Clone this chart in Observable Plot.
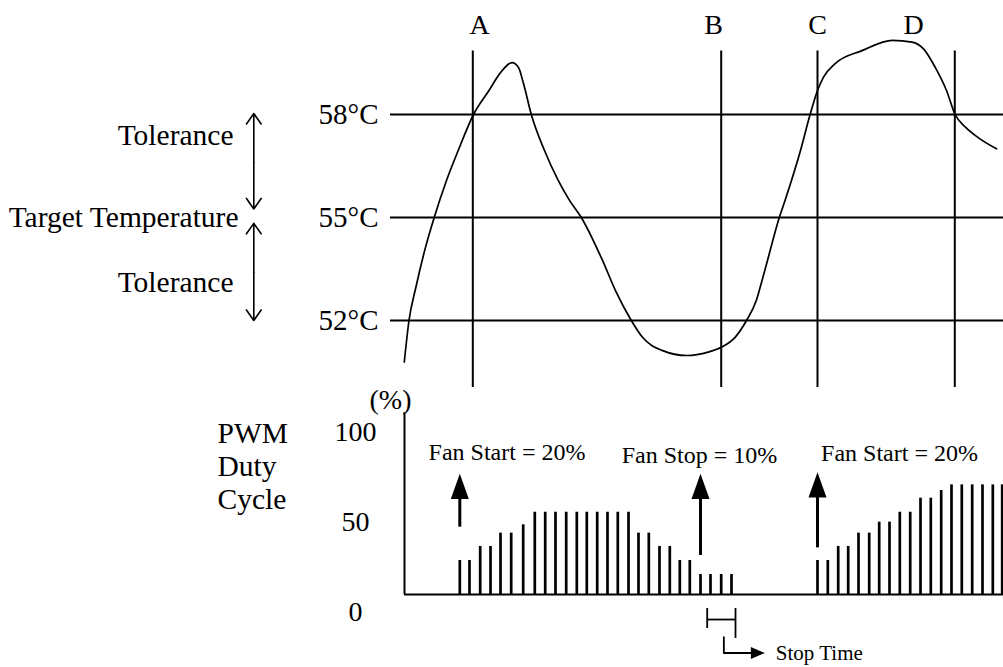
<!DOCTYPE html>
<html><head><meta charset="utf-8">
<script src="https://cdn.jsdelivr.net/npm/d3@7"></script>
<script src="https://cdn.jsdelivr.net/npm/@observablehq/plot@0.6"></script>
<style>
html,body{margin:0;padding:0;background:#fff;}
#wrap{position:relative;width:1003px;height:667px;overflow:hidden;background:#fff;}
#wrap svg{position:absolute;left:0;top:0;}
</style></head><body><div id="wrap"></div>
<script>
// ---------- data (time in s-like units, temperature in °C, duty in %) ----------
const tempTime  = [-0.02, 0.45, 1.14, 2.1, 2.98, 4.2, 5.37, 6.9, 8.45, 9.6, 10.75, 11.4, 11.9, 12.68, 14.0, 15.37, 16.5, 17.68, 19.8, 21.1, 22.68, 23.8, 25.75, 28.25, 30.37, 31.68, 33.06, 34.2, 35.18, 35.75, 36.3, 37.48, 38.06, 39.6, 40.56, 41.3, 41.9, 43.06, 45.75, 48.8, 50.75, 51.9, 53.06, 54.2, 55.06, 56.1, 57.3, 59.2];
const tempValue = [50.79, 52.0, 52.97, 54.13, 55.01, 56.08, 56.95, 58.0, 58.7, 59.22, 59.51, 59.37, 58.9, 58.0, 56.95, 56.08, 55.5, 55.0, 53.75, 52.87, 52.0, 51.51, 51.13, 50.98, 51.08, 51.22, 51.51, 52.0, 52.58, 53.16, 53.75, 55.0, 55.5, 56.95, 58.0, 58.7, 59.09, 59.48, 59.86, 60.16, 60.11, 59.91, 59.38, 58.7, 58.0, 57.63, 57.34, 57.0];
const tempTicks = [52, 55, 58];
const targetTemp = 55;
const toleranceHigh = 58;
const toleranceLow = 52;

const eventNames     = ["A", "B", "C", "D"];
const eventLabelTime = [7.5, 30.9, 41.3, 50.9];
const eventLineTime  = [6.83, 31.67, 41.3, 55.03];

const dutyTime1 = [5.53, 6.5, 7.57, 8.6, 9.6, 10.67, 11.87, 13.03, 14.07, 15.1, 16.17, 17.23, 18.23, 19.27, 20.3, 21.33, 22.4, 23.4, 24.43, 25.5, 26.53, 27.53, 28.53, 29.6, 30.6, 31.67, 32.7];
const duty1     = [18.9, 18.9, 26.7, 26.7, 34.1, 34.1, 38.7, 45.7, 45.7, 45.7, 45.7, 45.7, 45.7, 45.7, 45.7, 45.7, 45.7, 34.1, 34.1, 26.7, 26.7, 18.9, 18.9, 11.1, 11.1, 11.1, 11.1];
const dutyTime2 = [41.3, 42.33, 43.37, 44.37, 45.4, 46.47, 47.47, 48.5, 49.53, 50.57, 51.6, 52.63, 53.67, 54.7, 55.73, 56.77, 57.8, 58.83, 59.77];
const duty2     = [18.9, 18.9, 26.7, 26.7, 34.1, 34.1, 40.2, 40.2, 45.7, 45.7, 53.5, 53.5, 57.8, 60.9, 60.9, 60.9, 60.9, 60.9, 60.9];
const dutyTicks = [0, 50, 100];

const fanNotes      = ["Fan Start = 20%", "Fan Stop = 10%", "Fan Start = 20%"];
const fanNoteTime   = [10.25, 29.5, 49.5];
const fanNoteDuty   = [79.1, 77.2, 78.3];
const fanArrowTime  = [5.53, 29.6, 41.3];
const fanArrowFrom  = [37.4, 21.7, 25.9];
const fanArrowTo    = [67.1, 67.1, 67.9];

const stopTimeStart = 30.27;
const stopTimeEnd   = 33.1;

// ---------- layout / style constants ----------
const W = 1003, H = 667;
const FONT = "'Liberation Serif', 'Times New Roman', serif";
const xScale = {domain: [-1.4, 59.9], range: [390, 1003]};

// ---------- top chart: temperature ----------
const curve = tempTime.map((t, i) => ({t, v: tempValue[i]}));
const events = eventNames.map((n, i) => ({n, t: eventLabelTime[i]}));
const leftNotes = [
  {s: "Tolerance", y: 57.4, x: -17.1},
  {s: "Target Temperature", y: targetTemp, x: -16.6},
  {s: "Tolerance", y: 53.1, x: -17.1}
];
const tolArrows = [
  {y1: 56.6, y2: toleranceHigh + 0.03},
  {y1: 56.6, y2: targetTemp + 0.25},
  {y1: 53.4, y2: targetTemp - 0.17},
  {y1: 53.4, y2: toleranceLow}
];

const topChart = Plot.plot({
  width: W, height: H,
  marginLeft: 390, marginRight: 0, marginTop: 0, marginBottom: 0,
  style: {fontFamily: FONT, fontSize: "28px", background: "transparent", color: "#000"},
  x: {...xScale, axis: null},
  y: {domain: [52, 58], range: [320, 114]},
  marks: [
    Plot.ruleY(tempTicks, {stroke: "#000", strokeWidth: 2}),
    Plot.ruleX(eventLineTime, {y1: 50.05, y2: 59.85, stroke: "#000", strokeWidth: 2}),
    Plot.line(curve, {x: "t", y: "v", curve: "monotone-x", stroke: "#000", strokeWidth: 1.7}),
    Plot.axisY({ticks: tempTicks, tickFormat: d => d + "°C", tickSize: 0, tickPadding: 12, fontSize: 29, label: null, fill: "#000"}),
    Plot.text(events, {x: "t", y: 60.6, text: "n", fontSize: 28, fill: "#000"}),
    Plot.text(leftNotes, {x: "x", y: "y", text: "s", textAnchor: "end", fontSize: 29.5, fill: "#000"}),
    Plot.arrow(tolArrows, {x: -15.07, y1: "y1", y2: "y2", stroke: "#000", strokeWidth: 1.6, headLength: 12, headAngle: 70})
  ]
});

// ---------- bottom chart: PWM duty ----------
const bars = dutyTime1.map((t, i) => ({t, d: duty1[i]}))
  .concat(dutyTime2.map((t, i) => ({t, d: duty2[i]})));
const fanArrows = fanArrowTime.map((t, i) => ({t, from: fanArrowFrom[i], to: fanArrowTo[i], id: i}));
const headHalf = 0.9, headLen = 14;  // half-width in time units, length in duty units
const heads = fanArrows.flatMap(a => [
  {id: a.id, t: a.t - headHalf, d: a.to - headLen},
  {id: a.id, t: a.t, d: a.to},
  {id: a.id, t: a.t + headHalf, d: a.to - headLen}
]);
const notes = fanNotes.map((s, i) => ({s, t: fanNoteTime[i], d: fanNoteDuty[i]}));

const stopMid = (stopTimeStart + stopTimeEnd) / 2 + 0.25;
const stopL = [
  {t: stopMid, d: -23.7},
  {t: stopMid, d: -32.5},
  {t: stopMid + 2.75, d: -32.5}
];
const stopHead = [
  {t: stopMid + 2.7, d: -29.1},
  {t: stopMid + 4.1, d: -32.5},
  {t: stopMid + 2.7, d: -35.9}
];

const bottomChart = Plot.plot({
  width: W, height: H,
  marginLeft: 390, marginRight: 0, marginTop: 0, marginBottom: 0,
  style: {fontFamily: FONT, fontSize: "28px", background: "transparent", color: "#000"},
  x: {...xScale, axis: null},
  y: {domain: [0, 100], range: [594, 414]},
  marks: [
    Plot.ruleX(bars, {x: "t", y1: 0, y2: "d", stroke: "#000", strokeWidth: 2.7}),
    Plot.ruleX([0], {y1: 0, y2: 101, stroke: "#000", strokeWidth: 2}),
    Plot.ruleY([0], {x1: 0, x2: 59.9, stroke: "#000", strokeWidth: 2}),
    Plot.axisY({ticks: dutyTicks, tickSize: 0, tickPadding: 0, dx: -35, dy: 18, textAnchor: "middle", fontSize: 28, label: null, fill: "#000"}),
    Plot.text(["(%)"], {x: -1.4, y: 107.8, text: d => d, fontSize: 28, fill: "#000"}),
    Plot.text(["PWM\nDuty\nCycle"], {x: -18.7, y: 71.7, text: d => d, textAnchor: "start", lineAnchor: "middle", lineHeight: 1.12, fontSize: 29.5, fill: "#000"}),
    Plot.ruleX(fanArrows, {x: "t", y1: "from", y2: d => d.to - headLen + 1, stroke: "#000", strokeWidth: 3}),
    Plot.line(heads, {x: "t", y: "d", z: "id", fill: "#000", stroke: "none"}),
    Plot.text(notes, {x: "t", y: "d", text: "s", fontSize: 24, fill: "#000"}),
    // stop time bracket
    Plot.ruleX([stopTimeStart], {y1: -7.8, y2: -18.9, stroke: "#000", strokeWidth: 1.8}),
    Plot.ruleX([stopTimeEnd], {y1: -7.8, y2: -24.4, stroke: "#000", strokeWidth: 1.8}),
    Plot.ruleY([-13.9], {x1: stopTimeStart, x2: stopTimeEnd, stroke: "#000", strokeWidth: 1.8}),
    Plot.line(stopL, {x: "t", y: "d", stroke: "#000", strokeWidth: 1.8}),
    Plot.line(stopHead, {x: "t", y: "d", fill: "#000", stroke: "none"}),
    Plot.text(["Stop Time"], {x: stopMid + 5.2, y: -32.5, text: d => d, textAnchor: "start", fontSize: 21, fill: "#000"})
  ]
});

const wrap = document.getElementById("wrap");
wrap.appendChild(topChart);
wrap.appendChild(bottomChart);
</script>
</body></html>
